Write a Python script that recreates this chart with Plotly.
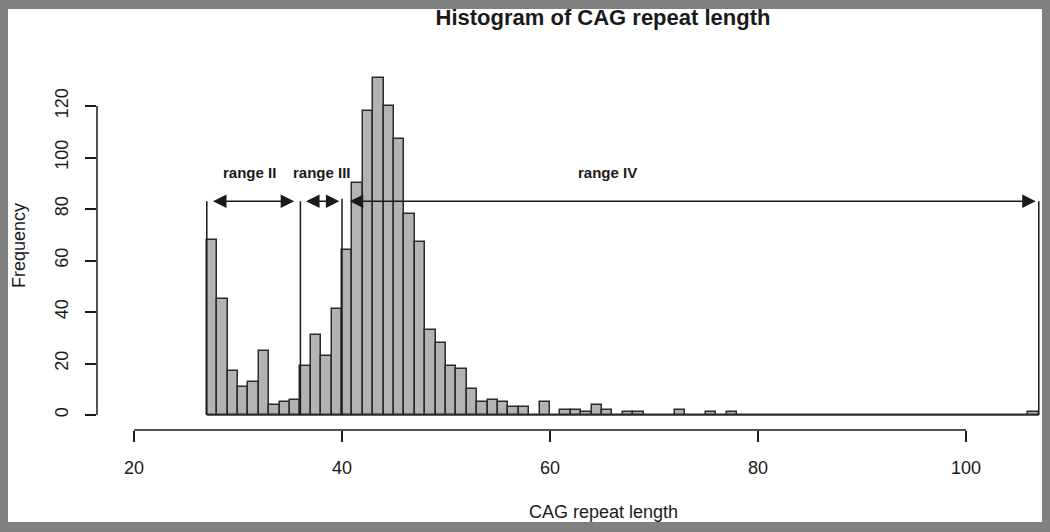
import plotly.graph_objects as go

# ---- data ----
bin_start = 27
counts = [68, 45, 17, 11, 13, 25, 4, 5, 6, 19,
          31, 23, 41, 64, 90, 118, 131, 120, 107, 78,
          67, 33, 28, 19, 18, 10, 5, 6, 5, 3,
          3, 0, 5, 0, 2, 2, 1, 4, 2, 0,
          1, 1, 0, 0, 0, 2, 0, 0, 1, 0,
          1, 0, 0, 0, 0, 0, 0, 0, 0, 0,
          0, 0, 0, 0, 0, 0, 0, 0, 0, 0,
          0, 0, 0, 0, 0, 0, 0, 0, 0, 1]
x_ticks = [20, 40, 60, 80, 100]
y_ticks = [0, 20, 40, 60, 80, 100, 120]
range_labels = ["range II", "range III", "range IV"]
range_label_x = [31.15, 38.05, 65.5]
range_label_y = 94
range_arrow_start = [27.45, 36.4, 40.6]
range_arrow_end = [35.4, 39.75, 106.7]
arrow_y = 83
bound_x = [27, 36, 40, 107]
bound_top = [83, 83, 84, 83]

# ---- geometry (pixels) ----
W, H = 1050, 532
L, R, T, B = 97, 9, 70, 102
PW, PH = W - L - R, H - T - B


def px_x(p):
    return (p - L) / PW


def px_y(p):
    return (H - B - p) / PH


FONT = "Liberation Sans, Arial, Helvetica, sans-serif"
INK = "#1a1a1a"

centers = [bin_start + i + 0.5 for i in range(len(counts))]

fig = go.Figure()
fig.add_trace(go.Bar(
    x=centers, y=counts, width=1,
    marker=dict(color="#b3b3b3", line=dict(color="#2b2b2b", width=1.5)),
    hoverinfo="x+y", showlegend=False,
))

shapes = []
# outer grey frame: white inner panel
shapes.append(dict(type="rect", xref="paper", yref="paper",
                   x0=px_x(8), x1=px_x(1042), y0=px_y(522), y1=px_y(9),
                   fillcolor="white", line=dict(width=0), layer="below"))
# baseline under all bins
shapes.append(dict(type="line", xref="x", yref="y",
                   x0=bin_start, x1=bin_start + len(counts), y0=0, y1=0,
                   line=dict(color="#2b2b2b", width=1.5)))
# R-style axis lines spanning first..last tick
shapes.append(dict(type="line", xref="x", yref="paper",
                   x0=x_ticks[0], x1=x_ticks[-1], y0=0, y1=0,
                   line=dict(color=INK, width=1.5)))
shapes.append(dict(type="line", xref="paper", yref="y",
                   x0=0, x1=0, y0=y_ticks[0], y1=y_ticks[-1],
                   line=dict(color=INK, width=1.5)))
# range boundary lines
for bx, bt in zip(bound_x, bound_top):
    shapes.append(dict(type="line", xref="x", yref="y",
                       x0=bx, x1=bx, y0=0, y1=bt,
                       line=dict(color=INK, width=1.5)))

annotations = []
for xs, xe in zip(range_arrow_start, range_arrow_end):
    annotations.append(dict(x=xe, y=arrow_y, ax=xs, ay=arrow_y,
                            xref="x", yref="y", axref="x", ayref="y",
                            text="", showarrow=True, arrowhead=2,
                            arrowside="end+start", arrowsize=1.8,
                            arrowwidth=1.5, arrowcolor=INK,
                            standoff=0, startstandoff=0))
for lab, lx in zip(range_labels, range_label_x):
    annotations.append(dict(x=lx, y=range_label_y, xref="x", yref="y",
                            text=lab, showarrow=False,
                            font=dict(family=FONT, size=15, color=INK, weight=700)))
annotations.append(dict(x=px_x(603), y=px_y(512), xref="paper", yref="paper",
                        text="CAG repeat length", showarrow=False,
                        xanchor="center", yanchor="middle",
                        font=dict(family=FONT, size=18, color=INK)))
annotations.append(dict(x=px_x(19), y=px_y(246), xref="paper", yref="paper",
                        text="Frequency", showarrow=False, textangle=-90,
                        xanchor="center", yanchor="middle",
                        font=dict(family=FONT, size=18, color=INK)))

fig.update_layout(
    width=W, height=H,
    margin=dict(l=L, r=R, t=T, b=B, pad=0),
    paper_bgcolor="#808080", plot_bgcolor="white",
    bargap=0,
    title=dict(text="Histogram of CAG repeat length",
               x=px_x(603), xref="paper", xanchor="center",
               y=1 - 17 / H, yref="container", yanchor="middle",
               font=dict(family=FONT, size=22, color=INK, weight=700)),
    xaxis=dict(range=[20 - (134 - L) / 10.4, 20 + (W - R - 134) / 10.4],
               tickmode="array", tickvals=x_ticks,
               ticks="outside", ticklen=11, tickwidth=1.5, tickcolor=INK,
               showline=False, showgrid=False, zeroline=False,
               tickfont=dict(family=FONT, size=18, color=INK),
               ticklabelstandoff=10, automargin=False),
    yaxis=dict(range=[-(H - B - 415) / 2.575, (415 - T) / 2.575],
               tickmode="array", tickvals=y_ticks, tickangle=-90,
               ticks="outside", ticklen=11, tickwidth=1.5, tickcolor=INK,
               showline=False, showgrid=False, zeroline=False,
               tickfont=dict(family=FONT, size=18, color=INK),
               ticklabelstandoff=10, automargin=False),
    shapes=shapes, annotations=annotations,
    font=dict(family=FONT, color=INK),
)

fig.write_html("out.html",
               config={"displayModeBar": False},
               post_script="document.body.style.margin='0';"
                           "document.body.style.background='#808080';")
